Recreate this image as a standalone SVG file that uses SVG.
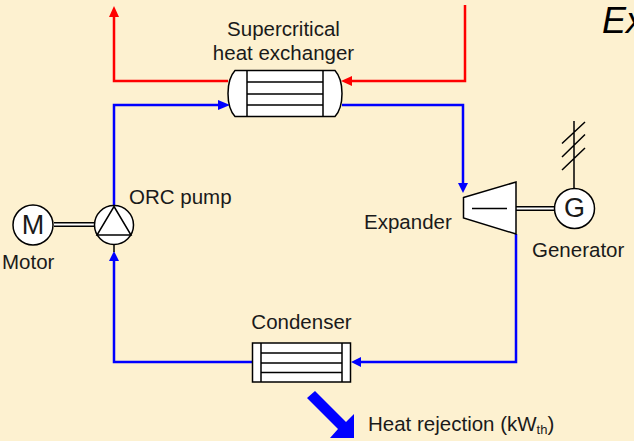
<svg xmlns="http://www.w3.org/2000/svg" width="634" height="441" viewBox="0 0 634 441">
<style>
text{font-family:"Liberation Sans",Arial,sans-serif;font-size:20.500px;fill:#1a1a1a}
.s{fill:#fff;stroke:#000;stroke-width:1.5}
.l{fill:none;stroke:#000;stroke-width:1.5}
.r{fill:none;stroke:#f00;stroke-width:2.5}
.b{fill:none;stroke:#00f;stroke-width:2.5}
.rh{fill:#f00}.bh{fill:#00f}
</style>
<rect width="634" height="441" fill="#fdf1d0"/>
<g id="connectors">
<path class="r" d="M465 5V81H352"/><polygon class="rh" points="341,81 352,76 352,86"/>
<path class="r" d="M228 81H114V16"/><polygon class="rh" points="114,6 109,17 119,17"/>
<path class="b" d="M114 206V105H220"/><polygon class="bh" points="230,105 218,100 218,110"/>
<path class="b" d="M342 105H463V184"/><polygon class="bh" points="463,193 458,183 468,183"/>
<path class="b" d="M516 234V362H360"/><polygon class="bh" points="351,362 361,357 361,367"/>
<path class="b" d="M253 362H114V259"/><polygon class="bh" points="114,251 109,261 119,261"/>
<path class="l" d="M114 244V252"/>
<path d="M54 224.500H94" stroke="#000" stroke-width="5" fill="none"/><path d="M54 224.500H94" stroke="#fff" stroke-width="2" fill="none"/>
<path d="M516 208.500H555" stroke="#000" stroke-width="5" fill="none"/><path d="M516 208.500H555" stroke="#fff" stroke-width="2" fill="none"/>
</g>
<g id="hx">
<path class="s" d="M235 70.500H335C340 76 342 84 342 93.500C342 103 340 111 335 116.500H235C230 111 228 103 228 93.500C228 84 230 76 235 70.500Z"/>
<path class="l" d="M247 70.500V116.500M323 70.500V116.500M247 82H323M247 94H323M247 105H323"/>
<text x="283.500" y="36" text-anchor="middle">Supercritical</text>
<text x="283.500" y="60" text-anchor="middle">heat exchanger</text>
</g>
<g id="motor">
<circle class="s" cx="33" cy="225" r="20"/>
<text x="33" y="234" text-anchor="middle" style="font-size:27px">M</text>
<text x="2" y="269">Motor</text>
</g>
<g id="pump">
<circle class="s" cx="114" cy="225" r="19.500"/>
<path class="l" d="M114 206.500L131 235H97ZM97 235H131"/>
<text x="129" y="204">ORC pump</text>
</g>
<g id="expander">
<polygon class="s" points="463.500,197.500 516,182 516,234 463.500,218"/>
<path class="l" d="M472 208.500H507"/>
<text x="364" y="229">Expander</text>
</g>
<g id="generator">
<path class="l" d="M574 188V121M562 143.500L585 122M562 157L585 134.500M562 170L585 148"/>
<circle class="s" cx="574.500" cy="208.500" r="20"/>
<text x="574.500" y="217" text-anchor="middle" style="font-size:27px">G</text>
<text x="532" y="257">Generator</text>
</g>
<g id="condenser">
<rect class="s" x="252.500" y="343" width="98" height="39"/>
<path class="l" d="M261 343V382M342 343V382M261 353H342M261 363H342M261 372.500H342"/>
<text x="301.500" y="329" text-anchor="middle">Condenser</text>
</g>
<g id="heat">
<polygon class="bh" points="315,391 307,398 338,429 330,438 354,438 354,414 346,422"/>
<text x="368" y="431">Heat rejection (kW<tspan dy="3" style="font-size:13px">th</tspan><tspan dy="-3">)</tspan></text>
</g>
<text x="602" y="33" style="font-size:36px;font-style:italic;fill:#000">Ex</text>
</svg>
